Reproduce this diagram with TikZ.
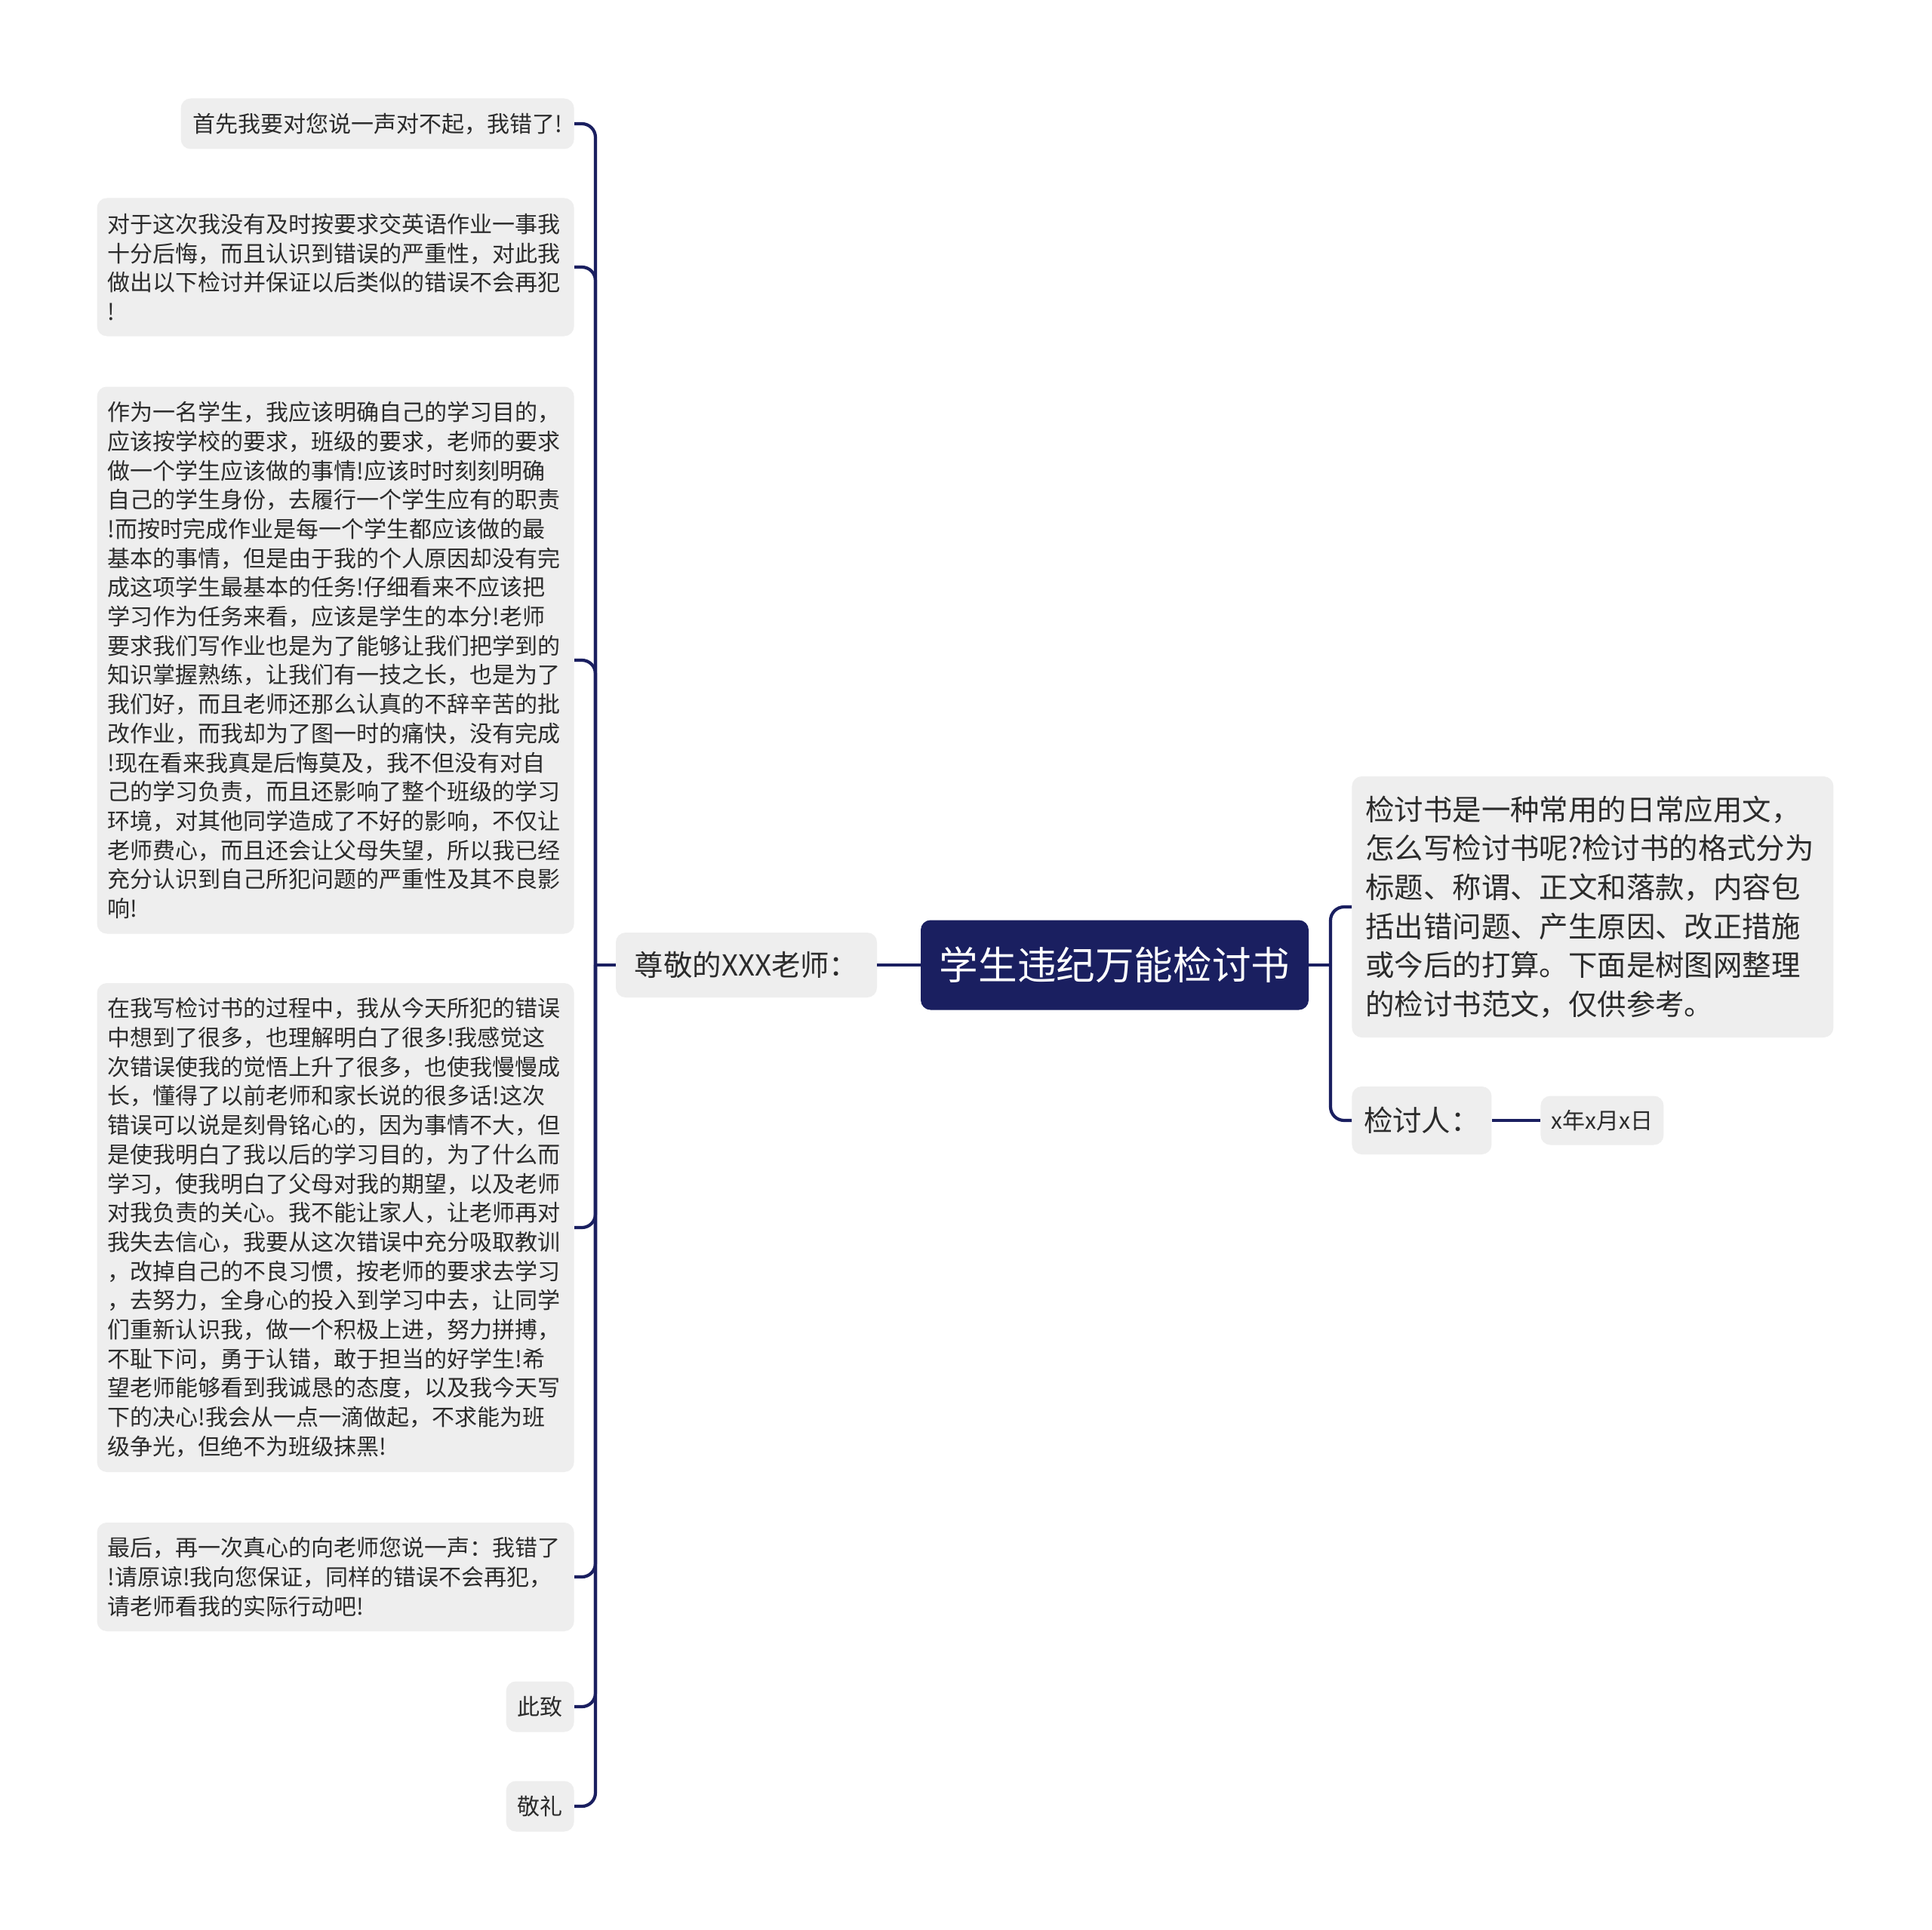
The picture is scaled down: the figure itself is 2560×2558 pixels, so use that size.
\documentclass[tikz,border=0pt]{standalone}
\usepackage{fontspec}
\setmainfont{Noto Sans CJK SC}
\definecolor{navy}{HTML}{1A1F60}
\definecolor{boxgray}{HTML}{EEEEEE}
\definecolor{txt}{HTML}{2B2B2B}
\begin{document}
\begin{tikzpicture}[x=0.5pt,y=-0.5pt,
  box/.style={fill=boxgray, rounded corners=6.5pt, text=txt, inner sep=0pt, align=center},
  small/.style={font={\fontsize{15pt}{19.35pt}\selectfont}},
  mid/.style={font={\fontsize{19.2pt}{25.8pt}\selectfont}},
  para/.style={box, small, align=left, text width=302pt, inner xsep=7pt, anchor=east},
  rootbox/.style={fill=navy, rounded corners=6.5pt, text=white, inner sep=0pt,
    minimum width=257pt, minimum height=59.5pt, font={\fontsize{25.8pt}{30pt}\selectfont}},
  conn/.style={draw=navy, line width=2.1pt}]
\useasboundingbox (0,0) rectangle (2560,2558);
\fill[white] (0,0) rectangle (2560,2558);

% root and first-level nodes
\node[rootbox] (root) at (1477,1279) {学生违纪万能检讨书};
\node[box, mid, minimum width=173pt, minimum height=43pt] (subL) at (989,1279) {尊敬的XXX老师：};

% left children
\node[box, small, minimum width=260.5pt, minimum height=33.5pt, anchor=east] (c1) at (761,164) {首先我要对您说一声对不起，我错了!};
\node[para, minimum height=91.5pt] (c2) at (761,354) {对于这次我没有及时按要求交英语作业一事我\\十分后悔，而且认识到错误的严重性，对此我\\做出以下检讨并保证以后类似的错误不会再犯\\!};
\node[para, minimum height=362.5pt] (c3) at (761,875) {作为一名学生，我应该明确自己的学习目的，\\应该按学校的要求，班级的要求，老师的要求\\做一个学生应该做的事情!应该时时刻刻明确\\自己的学生身份，去履行一个学生应有的职责\\!而按时完成作业是每一个学生都应该做的最\\基本的事情，但是由于我的个人原因却没有完\\成这项学生最基本的任务!仔细看来不应该把\\学习作为任务来看，应该是学生的本分!老师\\要求我们写作业也是为了能够让我们把学到的\\知识掌握熟练，让我们有一技之长，也是为了\\我们好，而且老师还那么认真的不辞辛苦的批\\改作业，而我却为了图一时的痛快，没有完成\\!现在看来我真是后悔莫及，我不但没有对自\\己的学习负责，而且还影响了整个班级的学习\\环境，对其他同学造成了不好的影响，不仅让\\老师费心，而且还会让父母失望，所以我已经\\充分认识到自己所犯问题的严重性及其不良影\\响!};
\node[para, minimum height=324pt] (c4) at (761,1627) {在我写检讨书的过程中，我从今天所犯的错误\\中想到了很多，也理解明白了很多!我感觉这\\次错误使我的觉悟上升了很多，也使我慢慢成\\长，懂得了以前老师和家长说的很多话!这次\\错误可以说是刻骨铭心的，因为事情不大，但\\是使我明白了我以后的学习目的，为了什么而\\学习，使我明白了父母对我的期望，以及老师\\对我负责的关心。我不能让家人，让老师再对\\我失去信心，我要从这次错误中充分吸取教训\\，改掉自己的不良习惯，按老师的要求去学习\\，去努力，全身心的投入到学习中去，让同学\\们重新认识我，做一个积极上进，努力拼搏，\\不耻下问，勇于认错，敢于担当的好学生!希\\望老师能够看到我诚恳的态度，以及我今天写\\下的决心!我会从一点一滴做起，不求能为班\\级争光，但绝不为班级抹黑!};
\node[para, minimum height=72pt] (c5) at (761,2090) {最后，再一次真心的向老师您说一声：我错了\\!请原谅!我向您保证，同样的错误不会再犯，\\请老师看我的实际行动吧!};
\node[box, small, minimum width=45pt, minimum height=33.5pt, anchor=east] (c6) at (761,2262) {此致};
\node[box, small, minimum width=45pt, minimum height=33.5pt, anchor=east] (c7) at (761,2394) {敬礼};

% right children
\node[box, mid, align=left, text width=301pt, inner xsep=9pt, minimum height=173pt, anchor=west] (r1) at (1791,1202) {检讨书是一种常用的日常应用文，\\怎么写检讨书呢?检讨书的格式分为\\标题、称谓、正文和落款，内容包\\括出错问题、产生原因、改正措施\\或今后的打算。下面是树图网整理\\的检讨书范文，仅供参考。};
\node[box, mid, minimum width=92.5pt, minimum height=45pt, anchor=west] (r2) at (1791,1485) {检讨人：};
\node[box, small, minimum width=81.5pt, minimum height=32.5pt, anchor=west] (r3) at (2041,1485) {x年x月x日};

% connectors
\coordinate (jL) at (789,1279);
\coordinate (jR) at (1763,1279);
\draw[conn] (root.west) -- (subL.east);
\draw[conn] (subL.west) -- (jL);
\foreach \c in {c1,c2,c3,c4,c5,c6,c7}
  \draw[conn, rounded corners=9pt] (jL) |- (\c.east);
\draw[conn] (root.east) -- (jR);
\draw[conn, rounded corners=9pt] (jR) |- (r1.west);
\draw[conn, rounded corners=9pt] (jR) |- (r2.west);
\draw[conn] (r2.east) -- (r3.west);
\end{tikzpicture}
\end{document}
